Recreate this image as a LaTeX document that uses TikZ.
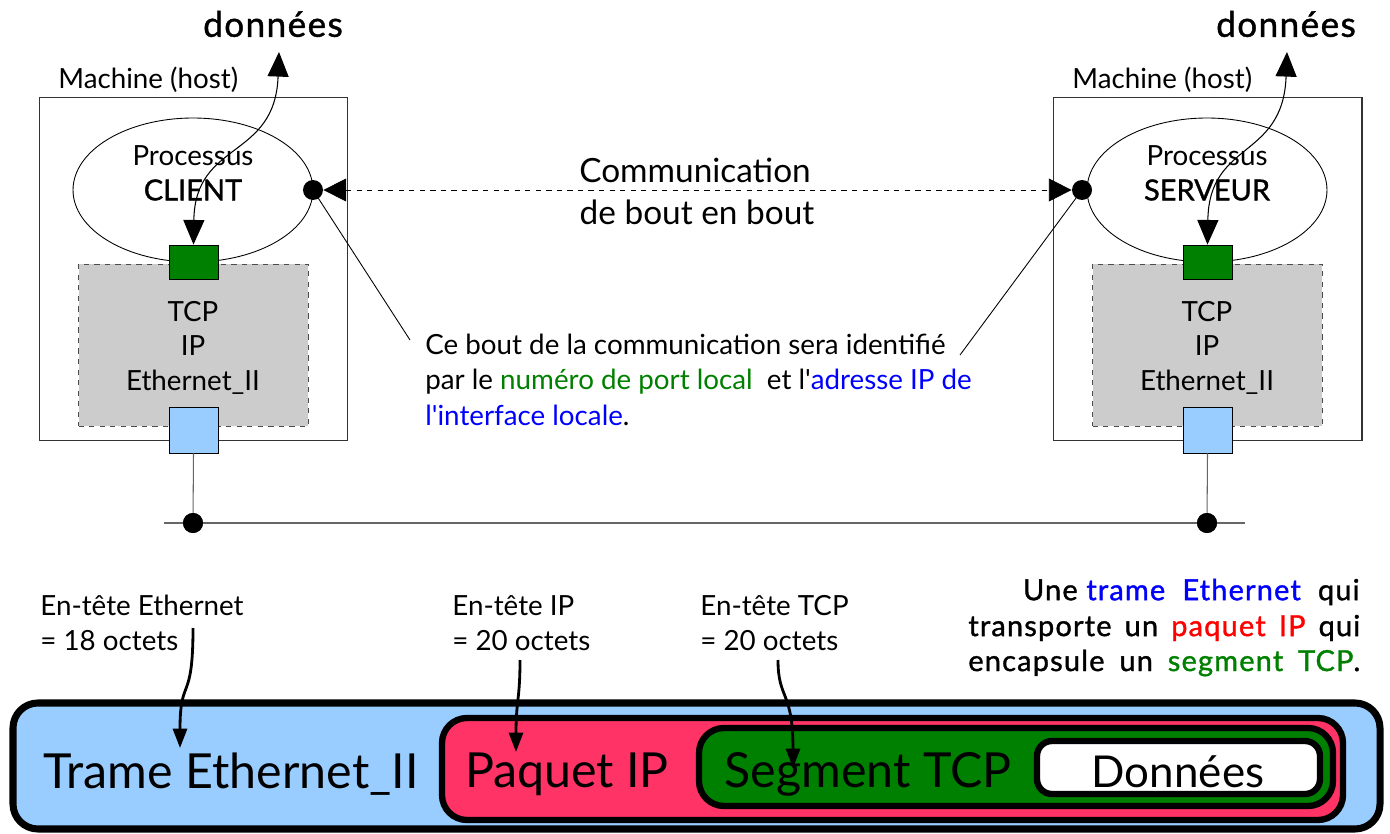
\documentclass[tikz,border=0pt]{standalone}
\usepackage{fontspec}
\setmainfont{Lato}
\newfontfamily\rawlato[Ligatures=TeXOff]{Lato}
\newfontfamily\medfont[FakeBold=1.2]{Lato}
\newfontfamily\medfontsp[FakeBold=1.2,LetterSpace=4]{Lato}
\usetikzlibrary{arrows.meta,shapes.geometric,calc}
\definecolor{tgreen}{RGB}{0,128,0}
\definecolor{lblue}{RGB}{153,204,255}
\definecolor{tpink}{RGB}{255,51,102}
\definecolor{lgray}{RGB}{204,204,204}
\definecolor{tblue}{RGB}{0,0,255}
\definecolor{tred}{RGB}{255,0,0}
\newcommand\sq{{\rawlato'}}
\begin{document}
\begin{tikzpicture}[x=0.02cm,y=-0.02cm,
  hostbox/.style={draw=black!80,line width=0.6pt,minimum width=6.18cm,minimum height=6.88cm,inner sep=0},
  proc/.style={draw,ellipse,line width=0.5pt,minimum width=4.8cm,minimum height=2.88cm,inner sep=0},
  stack/.style={draw=black!70,dashed,fill=lgray,line width=0.5pt,minimum width=4.6cm,minimum height=3.24cm,inner sep=0},
  gsq/.style={draw,fill=tgreen,line width=0.5pt,minimum width=0.98cm,minimum height=0.68cm,inner sep=0},
  bsq/.style={draw,fill=lblue,line width=0.5pt,minimum width=0.98cm,minimum height=0.92cm,inner sep=0},
  dot/.style={circle,fill=black,minimum size=0.4cm,inner sep=0},
  lbl/.style={font=\fontsize{15.8}{20}\selectfont,inner sep=0},
  big/.style={font=\fontsize{19}{24}\selectfont,inner sep=0},
  dbl/.style={line width=0.6pt,{Triangle[length=14pt,width=12pt]}-{Triangle[length=14pt,width=12pt]}},
  hdr/.style={line width=1.6pt,-{Triangle[length=11pt,width=8pt]}},
  frame/.style={draw=black,line width=4pt,rounded corners=0.5cm},
  btxt/.style={font=\fontsize{27.5}{34}\selectfont,inner sep=0},
  rtxt/.style={font=\fontsize{16.5}{20}\medfontsp,inner sep=0}
]
\useasboundingbox (0,0) rectangle (1390,834);

% ---------- hosts ----------
\foreach \n/\cx/\gx/\role in {L/193/193.5/CLIENT,R/1207/1207.5/SERVEUR}{
  \node[hostbox] (host\n) at (\cx+0.5,269) {};
  \node[stack] (stack\n) at (\gx,345) {};
  \node[proc] (proc\n) at (\cx,190) {};
  \node[gsq] (gsq\n) at (\gx,262) {};
  \node[bsq] (bsq\n) at (\gx,430) {};
  \node[dot] (bus\n) at (\cx,523) {};
  \node[lbl] (pr\n) at (\cx,156) {Processus};
  \node[lbl,font=\fontsize{16.5}{18}\medfont] (role\n) at (\cx,190) {\role};
  \node[lbl] (tcp\n) at (\cx,312) {TCP};
  \node[lbl] (ip\n) at (\cx,346) {IP};
  \node[lbl] (eth\n) at (\cx,382) {Ethernet\_II};
  \draw[black!60,line width=0.6pt] (bsq\n.south) -- (bus\n.center);
}
\node[lbl,anchor=west] (machL) at (58,80) {Machine (host)};
\node[lbl,anchor=west] (machR) at (1072,80) {Machine (host)};
\node[inner sep=0,font=\fontsize{20}{24}\medfontsp] (donL) at (273,24) {données};
\node[inner sep=0,font=\fontsize{20}{24}\medfontsp] (donR) at (1286,24) {données};

% bus
\coordinate (busW) at (164,523);
\coordinate (busE) at (1245,523);
\draw[black!60,line width=0.6pt] (busW) -- (busE);
\node[dot] at (busL) {};
\node[dot] at (busR) {};

% data arrows
\coordinate (tipL) at (279,52);
\coordinate (tipR) at (1287,52);
\draw[dbl] (gsqL.north) .. controls (195,140) and (275,160) .. (tipL);
\draw[dbl] (gsqR.north) .. controls (1209,140) and (1283,160) .. (tipR);

% communication
\node[dot] (ballL) at (313,190) {};
\node[dot] (ballR) at (1082,190) {};
\draw[dashed,line width=0.5pt,{Triangle[length=13pt,width=13pt]}-{Triangle[length=13pt,width=13pt]}] (ballL) -- (ballR);
\node[big] (comm1) at (695,170) {Communication};
\node[big] (comm2) at (697,212) {de bout en bout};

% annotation
\node[lbl,anchor=north west,align=left] (annot) at (425,334)
  {Ce bout de la communication sera identifié\\
   par le \textcolor{tgreen}{numéro de port local}\ \ et l\sq\textcolor{tblue}{adresse IP de}\\
   \textcolor{tblue}{l\sq interface locale}.};
\coordinate (aL) at (410,340);
\coordinate (aR) at (960,355);
\draw[line width=0.5pt] (ballL.center) -- (aL);
\draw[line width=0.5pt] (ballR.center) -- (aR);

% ---------- bottom ----------
\node[lbl,anchor=north west,align=left] (hE) at (40,595) {En-tête Ethernet\\= 18 octets};
\node[lbl,anchor=north west,align=left] (hI) at (452,595) {En-tête IP\\= 20 octets};
\node[lbl,anchor=north west,align=left] (hT) at (700,595) {En-tête TCP\\= 20 octets};

\node[rtxt,anchor=east] (r1) at (1360,592) {Une \textcolor{tblue}{trame\ \ Ethernet}\ \ qui};
\node[rtxt,anchor=west] (r2) at (968,628) {\makebox[7.84cm][s]{transporte un \textcolor{tred}{paquet IP} qui}};
\node[rtxt,anchor=west] (r3) at (968,663) {\makebox[7.84cm][s]{encapsule un \textcolor{tgreen}{segment TCP}.}};

\draw[frame,fill=lblue] (13,703) rectangle (1380,829);
\draw[frame,line width=3.6pt,fill=tpink] (442,718) rectangle (1343,820);
\draw[frame,line width=3.6pt,fill=tgreen] (699,728) rectangle (1333,806);
\draw[frame,line width=3.6pt,fill=white,rounded corners=0.3cm] (1037,741) rectangle (1320,794);

\node[btxt] (tE) at (231,774) {Trame Ethernet\_II};
\node[btxt] (tI) at (567,774) {Paquet IP};
\node[btxt] (tT) at (868,774) {Segment TCP};
\node[btxt,font=\fontsize{25}{30}\selectfont] (tD) at (1178,772) {Données};

\coordinate (sE) at (193,628);
\coordinate (eE) at (180,748);
\coordinate (sI) at (520,660);
\coordinate (eI) at (516,752);
\coordinate (sT) at (778,660);
\coordinate (eT) at (793,768);
\draw[hdr] (sE) .. controls (193,705) and (180,675) .. (eE);
\draw[hdr] (sI) .. controls (520,700) and (516,700) .. (eI);
\draw[hdr] (sT) .. controls (778,700) and (793,690) .. (eT);
\end{tikzpicture}
\end{document}
